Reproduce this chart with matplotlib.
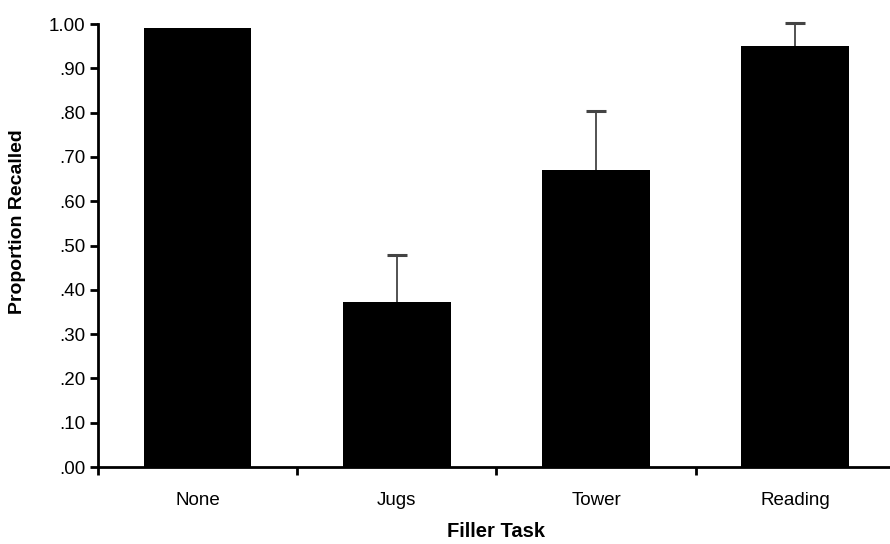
import matplotlib
matplotlib.use("Agg")
import matplotlib.pyplot as plt
import numpy as np

# data
tasks = ["None", "Jugs", "Tower", "Reading"]
recalled = [0.99, 0.373, 0.670, 0.950]
err_up = [0.0, 0.105, 0.134, 0.052]
yticks = [0.0, 0.1, 0.2, 0.3, 0.4, 0.5, 0.6, 0.7, 0.8, 0.9, 1.0]
ytick_labels = [".00", ".10", ".20", ".30", ".40", ".50", ".60", ".70", ".80", ".90", "1.00"]

plt.rcParams['font.family'] = ['Liberation Sans', 'DejaVu Sans']

fig = plt.figure(figsize=(8.9, 5.44), dpi=100)
ax = fig.add_axes([0.110, 0.1415, 0.8955, 0.8143])

x = np.arange(len(tasks))
ax.bar(x, recalled, width=0.54, color="black", zorder=2)

# error bars only where there is one (None has no visible bar)
has_err = np.array(err_up) > 0
xe = x[has_err]
ye = np.array(recalled)[has_err]
ee = np.array(err_up)[has_err]
eb = ax.errorbar(xe, ye, yerr=[np.zeros(len(ee)), ee], fmt="none",
                 ecolor="#444444", elinewidth=1.3, capsize=7, capthick=2.2, zorder=1)
eb[1][0].set_visible(False)
for c in eb[1]:
    c.set_clip_on(False)
for l in eb[2]:
    l.set_clip_on(False)

ax.set_xlim(-0.5, 3.5)
ax.set_ylim(0, 1.0)

ax.set_yticks(yticks)
ax.set_yticklabels(ytick_labels, fontsize=13.5)
ax.set_xticks([-0.5, 0.5, 1.5, 2.5, 3.5])
ax.set_xticklabels([])
ax.set_xticks(x, minor=True)
ax.set_xticklabels(tasks, minor=True, fontsize=13.5)
ax.tick_params(axis="x", which="minor", length=0, pad=18)
ax.tick_params(axis="x", which="major", length=6, width=2, direction="out")
ax.tick_params(axis="y", length=6, width=2, direction="out", pad=3)

for s in ["top", "right"]:
    ax.spines[s].set_visible(False)
for s in ["left", "bottom"]:
    ax.spines[s].set_linewidth(2)

ax.set_ylabel("Proportion Recalled", fontsize=14, fontweight="bold")
ax.yaxis.set_label_coords(-0.090, 0.554)
ax.set_xlabel("Filler Task", fontsize=14.5, fontweight="bold", labelpad=9)

fig.savefig("out.png", dpi=100)
